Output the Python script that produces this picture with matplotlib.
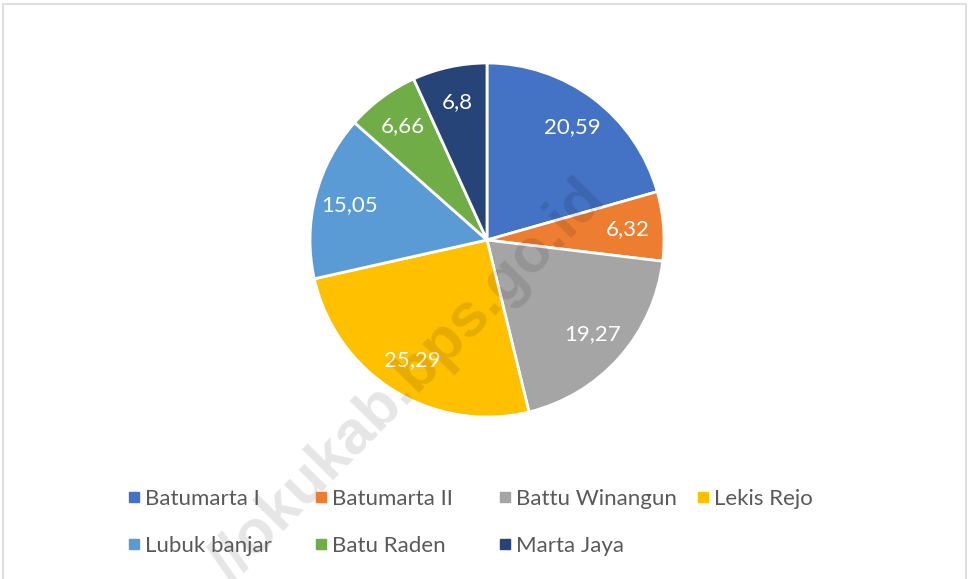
import matplotlib.pyplot as plt
from matplotlib.lines import Line2D
from matplotlib.patches import Rectangle
import numpy as np

# data
desa = ['Batumarta I', 'Batumarta II', 'Battu Winangun', 'Lekis Rejo',
        'Lubuk banjar', 'Batu Raden', 'Marta Jaya']
nilai = [20.59, 6.32, 19.27, 25.29, 15.05, 6.66, 6.8]
warna = ['#4472C4', '#ED7D31', '#A5A5A5', '#FFC000', '#5B9BD5', '#70AD47', '#264478']

plt.rcParams['font.family'] = ['Lato', 'DejaVu Sans']

fig = plt.figure(figsize=(9.7, 5.79), dpi=100)

# pie axes: centre ~ (487, 240) px, radius ~177 px
W, H = 970, 579
cx, cy, r = 487 / W, 1 - 240 / H, 177
ax = fig.add_axes([cx - r / W, cy - r / H, 2 * r / W, 2 * r / H])
wedges, _ = ax.pie(nilai, colors=warna, startangle=90, counterclock=False,
                   radius=1, wedgeprops=dict(edgecolor='white', linewidth=2))
ax.set_xlim(-1, 1)
ax.set_ylim(-1, 1)
ax.set_aspect('equal')
ax.axis('off')

# value labels, decimal comma
for w, v in zip(wedges, nilai):
    ang = np.deg2rad((w.theta1 + w.theta2) / 2)
    d = 0.8
    ax.text(d * np.cos(ang), d * np.sin(ang), f'{v:g}'.replace('.', ','),
            ha='center', va='center', color='white', fontsize=16)

# legend: Excel-style equal-width columns, entries row by row
kolom = [[0, 4], [1, 5], [2, 6], [3]]
kolom_x = [125, 312, 496, 694]
for idx, x in zip(kolom, kolom_x):
    handles = [Line2D([], [], marker='s', linestyle='', color=warna[i], markersize=6.5)
               for i in idx]
    fig.legend(handles, [desa[i] for i in idx], loc='upper left',
               bbox_to_anchor=(x / W, 1 - 489 / H), frameon=False, fontsize=16,
               labelcolor='#595959', handletextpad=0.1, labelspacing=1.2,
               handlelength=0.8, borderpad=0, borderaxespad=0)

# watermark
fig.text(408 / W, 1 - 382 / H, '//okukab.bps.go.id', rotation=45.5,
         ha='center', va='center', fontsize=44, fontweight='bold',
         family=['Liberation Sans', 'DejaVu Sans'], color='black', alpha=0.1,
         zorder=3)

# chart border
fig.patches.append(Rectangle((3 / W, -0.05), 963 / W, 1.05 - 4 / H,
                             transform=fig.transFigure, fill=False,
                             edgecolor='#d9d9d9', linewidth=1.2))

fig.savefig('out.png', dpi=100)
